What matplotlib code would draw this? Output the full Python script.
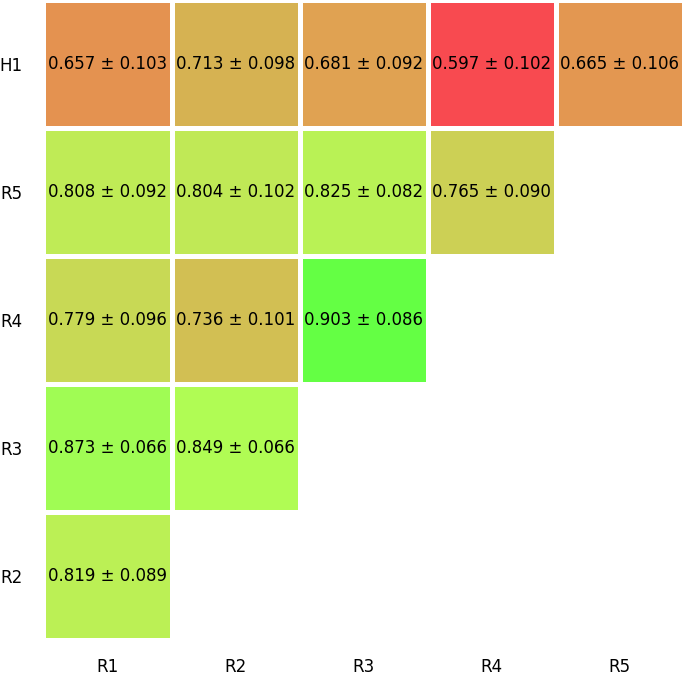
import numpy as np
import matplotlib
matplotlib.use('Agg')
import matplotlib.pyplot as plt
from matplotlib.colors import LinearSegmentedColormap, Normalize

plt.rcParams['font.family'] = ['DejaVu Sans']

row_labels = ['H1', 'R5', 'R4', 'R3', 'R2']
col_labels = ['R1', 'R2', 'R3', 'R4', 'R5']

# mean / std per cell, rows top to bottom, nan = empty
means = np.array([
    [0.657, 0.713, 0.681, 0.597, 0.665],
    [0.808, 0.804, 0.825, 0.765, np.nan],
    [0.779, 0.736, 0.903, np.nan, np.nan],
    [0.873, 0.849, np.nan, np.nan, np.nan],
    [0.819, np.nan, np.nan, np.nan, np.nan],
])
stds = np.array([
    [0.103, 0.098, 0.092, 0.102, 0.106],
    [0.092, 0.102, 0.082, 0.090, np.nan],
    [0.096, 0.101, 0.086, np.nan, np.nan],
    [0.066, 0.066, np.nan, np.nan, np.nan],
    [0.089, np.nan, np.nan, np.nan, np.nan],
])

# red -> orange -> yellow -> green scale
vmin, vmax = 0.597, 0.903
nodes = [(0.597, '#F84A50'), (0.657, '#E49250'), (0.681, '#E0A252'),
         (0.713, '#D6B252'), (0.765, '#CCD055'), (0.808, '#BFEB56'),
         (0.849, '#B0FC54'), (0.873, '#A0FC54'), (0.903, '#64FF44')]
cmap = LinearSegmentedColormap.from_list(
    'rg', [((v - vmin) / (vmax - vmin), c) for v, c in nodes])
norm = Normalize(vmin, vmax)

fig = plt.figure(figsize=(6.85, 6.75), dpi=100)
ax = fig.add_axes([43.5 / 685, 35 / 675, 640 / 685, 640 / 675])

data = np.ma.masked_invalid(means)
ax.pcolormesh(np.arange(6), np.arange(6), data, cmap=cmap, norm=norm,
              edgecolors='white', linewidth=2.5)
ax.set_xlim(0, 5)
ax.set_ylim(5, 0)

for i in range(5):
    for j in range(5):
        if not np.isnan(means[i, j]):
            ax.text(j + 0.5, i + 0.5, f'{means[i, j]:.3f} ± {stds[i, j]:.3f}',
                    ha='center', va='center', fontsize=12, color='black')

ax.set_xticks(np.arange(5) + 0.5)
ax.set_xticklabels(col_labels, fontsize=12)
ax.set_yticks(np.arange(5) + 0.5)
ax.set_yticklabels(row_labels, fontsize=12)
ax.tick_params(length=0)
ax.tick_params(axis='x', pad=13)
ax.tick_params(axis='y', pad=15)
for s in ax.spines.values():
    s.set_visible(False)

fig.savefig('out.png', dpi=100)
